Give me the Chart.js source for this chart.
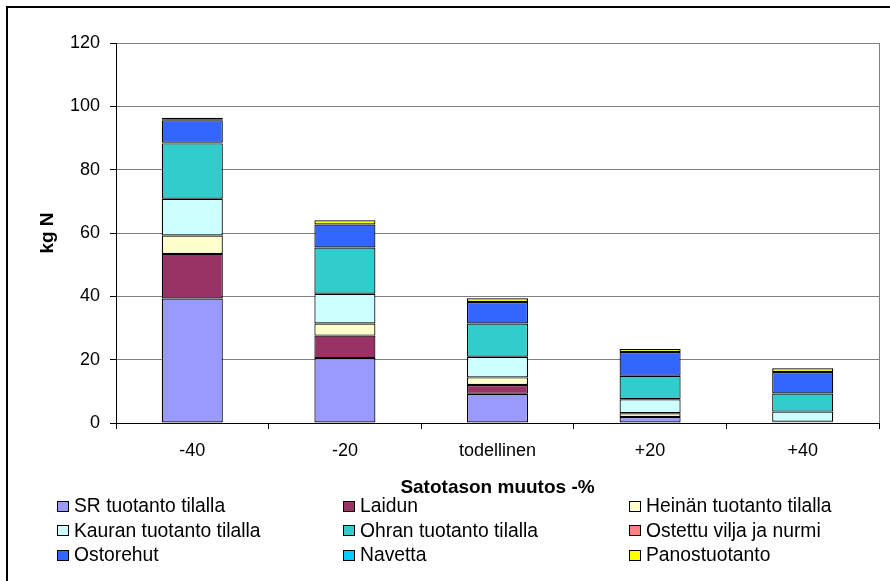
<!DOCTYPE html>
<html>
<head>
<meta charset="utf-8">
<script src="https://cdn.jsdelivr.net/npm/chart.js@4.4.1/dist/chart.umd.min.js"></script>
<style>
  html, body { margin: 0; padding: 0; background: #fff; overflow: hidden; }
  #wrap { position: relative; width: 890px; height: 581px; }
  #frame { position: absolute; left: 6px; top: 6px; width: 1000px; height: 1000px;
           border: 2px solid #000; box-sizing: border-box; pointer-events: none; }
  canvas { position: absolute; left: 0; top: 0; }
  #legend { position: absolute; left: 57px; top: 494px;
            display: grid; grid-template-columns: 286px 286px 286px; grid-auto-rows: 24.5px;
            font-family: "Liberation Sans", Arial, sans-serif; font-size: 19.3px; color: #000; }
  .item { display: flex; align-items: center; white-space: nowrap; }
  .box { width: 12px; height: 11px; box-sizing: border-box; border: 1px solid #000;
         margin-right: 5px; flex: none; }
</style>
</head>
<body>
<div id="wrap">
  <canvas id="c" width="890" height="581"></canvas>
  <div id="legend"></div>
  <div id="frame"></div>
</div>
<script>
// Yield change scenarios (x axis)
const categories = ['-40', '-20', 'todellinen', '+20', '+40'];

// Nitrogen by source, kg N, stacked bottom to top
const srTuotanto      = [39.3, 20.5,  9.2, 1.9, 0.2];
const laidun          = [14.1,  7.1,  2.8, 0.0, 0.1];
const heinanTuotanto  = [ 5.8,  3.8,  2.4, 1.2, 0.1];
const kauranTuotanto  = [11.6,  9.4,  6.5, 4.4, 3.2];
const ohranTuotanto   = [17.5, 14.6, 10.5, 7.4, 5.7];
const ostettuVilja    = [ 0.2,  0.0,  0.0, 0.0, 0.0];
const ostorehut       = [ 7.1,  7.3,  6.8, 7.5, 6.8];
const navetta         = [ 0.3,  0.0,  0.0, 0.0, 0.0];
const panostuotanto   = [ 0.5,  1.3,  1.2, 1.0, 1.2];

const seriesNames = [
  'SR tuotanto tilalla', 'Laidun', 'Heinän tuotanto tilalla',
  'Kauran tuotanto tilalla', 'Ohran tuotanto tilalla', 'Ostettu vilja ja nurmi',
  'Ostorehut', 'Navetta', 'Panostuotanto'
];
const seriesValues = [srTuotanto, laidun, heinanTuotanto, kauranTuotanto, ohranTuotanto,
                      ostettuVilja, ostorehut, navetta, panostuotanto];
const seriesColors = ['#9999FF', '#993366', '#FFFFCC', '#CCFFFF', '#33CCCC',
                      '#FF8080', '#3366FF', '#00CCFF', '#FFFF00'];

const yTicks = { min: 0, max: 120, step: 20 };

const FONT = '"Liberation Sans", Arial, sans-serif';

// Gray frame line on the right side of the plot area
const plotFrame = {
  id: 'plotFrame',
  afterDatasetsDraw(chart) {
    const { ctx, chartArea: a } = chart;
    ctx.save();
    ctx.strokeStyle = '#808080';
    ctx.lineWidth = 1;
    ctx.beginPath();
    ctx.moveTo(Math.round(a.right) + 0.5, a.top);
    ctx.lineTo(Math.round(a.right) + 0.5, a.bottom);
    ctx.stroke();
    ctx.restore();
  }
};

const chart = new Chart(document.getElementById('c'), {
  type: 'bar',
  data: {
    labels: categories,
    datasets: seriesNames.map((name, i) => ({
      label: name,
      data: seriesValues[i],
      backgroundColor: seriesColors[i],
      borderColor: '#000',
      borderWidth: 1.2,
      borderSkipped: false,
      barPercentage: 0.4,
      categoryPercentage: 1.0
    }))
  },
  options: {
    responsive: false,
    animation: false,
    devicePixelRatio: 1,
    layout: { padding: { left: 30, top: 43, right: 11, bottom: 78 } },
    plugins: { legend: { display: false }, tooltip: { enabled: false } },
    scales: {
      x: {
        stacked: true,
        afterFit(scale) { scale.height = 80; },
        grid: { display: true, drawOnChartArea: false, drawTicks: true, tickLength: 6,
                color: '#000', offset: true },
        border: { color: '#000', width: 1 },
        ticks: { color: '#000', padding: 11, font: { family: FONT, size: 18 } },
        title: { display: true, text: 'Satotason muutos -%', color: '#000',
                 font: { family: FONT, size: 19, weight: 'bold' },
                 padding: { top: 0, bottom: 4 } }
      },
      y: {
        stacked: true,
        min: yTicks.min, max: yTicks.max,
        afterFit(scale) { scale.width = 86; },
        grid: { color: '#808080', tickColor: '#000', tickLength: 6, lineWidth: 1 },
        border: { color: '#000', width: 1 },
        ticks: { stepSize: yTicks.step, color: '#000', padding: 10,
                 font: { family: FONT, size: 18 } },
        title: { display: true, text: 'kg N', color: '#000',
                 font: { family: FONT, size: 19, weight: 'bold' },
                 padding: { top: 6, bottom: 0 } }
      }
    }
  },
  plugins: [plotFrame]
});

// Three-column legend built from the chart's datasets
const legendEl = document.getElementById('legend');
chart.data.datasets.forEach(ds => {
  const item = document.createElement('div');
  item.className = 'item';
  const box = document.createElement('span');
  box.className = 'box';
  box.style.background = ds.backgroundColor;
  const txt = document.createElement('span');
  txt.textContent = ds.label;
  item.appendChild(box);
  item.appendChild(txt);
  legendEl.appendChild(item);
});
</script>
</body>
</html>
